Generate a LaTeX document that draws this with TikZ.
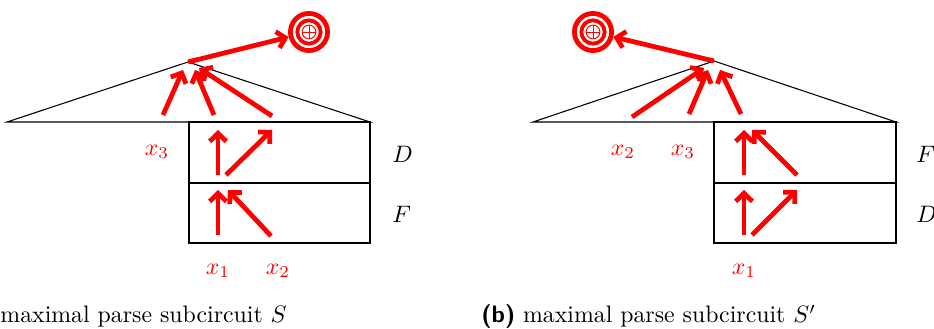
\documentclass[tikz,border=0pt]{standalone}
\usetikzlibrary{arrows.meta}
\begin{document}
\begin{tikzpicture}[x=0.42pt,y=-0.42pt,
  thin line/.style={black,line width=0.45pt},
  redarrow/.style={red,line width=2pt,-{Straight Barb[length=3.4pt,width=7pt]}},
  redlabel/.style={text=red,inner sep=0pt},
  boxlabel/.style={inner sep=0pt,anchor=west},
  outer ring/.style={circle,draw=red,line width=2pt,minimum size=15.6pt,inner sep=0pt},
  inner ring/.style={circle,draw=red,line width=1.6pt,minimum size=9.8pt,inner sep=0pt},
  oplus/.style={circle,draw=red,line width=0.4pt,minimum size=5.8pt,inner sep=0pt,
    path picture={\draw[red,line width=0.4pt] (path picture bounding box.north) -- (path picture bounding box.south)
      (path picture bounding box.west) -- (path picture bounding box.east);}}
]
\useasboundingbox (0,0) rectangle (934,329);

% ---------------- left panel ----------------
\coordinate (Ltl) at (7,122);
\coordinate (Lapex) at (188,62);
\coordinate (Ltr) at (370,122);
\coordinate (Lr1) at (189,122);
\coordinate (Lr2) at (370,243);
\coordinate (Lm1) at (189,183);
\coordinate (Lm2) at (370,183);
\draw[thin line] (Ltl) -- (Lapex) -- (Ltr) -- cycle;
\draw[thin line] (Lr1) rectangle (Lr2);
\draw[thin line] (Lm1) -- (Lm2);

\node[boxlabel] (LD) at (392,154) {$D$};
\node[boxlabel] (LF) at (392,214) {$F$};
\node[redlabel] (Lx3) at (157,152) {$x_3$};
\node[redlabel] (Lx1) at (218,271) {$x_1$};
\node[redlabel] (Lx2) at (278,271) {$x_2$};

\node[outer ring] (Lout) at (309,32) {};
\node[inner ring] (Lin) at (309,32) {};
\node[oplus] (Lop) at (309,32) {};

% arrow end points
\coordinate (LFa0) at (218,235); \coordinate (LFa1) at (218,190);
\coordinate (LFb0) at (271,236); \coordinate (LFb1) at (228,190);
\coordinate (LDa0) at (218,175); \coordinate (LDa1) at (218,130);
\coordinate (LDb0) at (226,175); \coordinate (LDb1) at (272,130);
\coordinate (LTa0) at (163,115); \coordinate (LTa1) at (183,70);
\coordinate (LTb0) at (214,115); \coordinate (LTb1) at (195,70);
\coordinate (LTc0) at (272,116); \coordinate (LTc1) at (199,68);

\draw[redarrow] (LFa0) -- (LFa1);
\draw[redarrow] (LFb0) -- (LFb1);
\draw[redarrow] (LDa0) -- (LDa1);
\draw[redarrow] (LDb0) -- (LDb1);
\draw[redarrow] (LTa0) -- (LTa1);
\draw[redarrow] (LTb0) -- (LTb1);
\draw[redarrow] (LTc0) -- (LTc1);
\draw[redarrow] (Lapex) -- (Lout);

\node[anchor=base west,inner sep=0pt] (Lcap) at (0,323) {maximal parse subcircuit $S$};

% ---------------- right panel ----------------
\coordinate (Rtl) at (533,122);
\coordinate (Rapex) at (714,61);
\coordinate (Rtr) at (896,122);
\coordinate (Rr1) at (714,122);
\coordinate (Rr2) at (896,243);
\coordinate (Rm1) at (714,183);
\coordinate (Rm2) at (896,183);
\draw[thin line] (Rtl) -- (Rapex) -- (Rtr) -- cycle;
\draw[thin line] (Rr1) rectangle (Rr2);
\draw[thin line] (Rm1) -- (Rm2);

\node[boxlabel] (RF) at (916,154) {$F'$};
\node[boxlabel] (RD) at (916,214) {$D'$};
\node[redlabel] (Rx2) at (623,152) {$x_2$};
\node[redlabel] (Rx3) at (683,152) {$x_3$};
\node[redlabel] (Rx1) at (744,271) {$x_1$};

\node[outer ring] (Rout) at (593,32) {};
\node[inner ring] (Rin) at (593,32) {};
\node[oplus] (Rop) at (593,32) {};

\coordinate (RDa0) at (744,235); \coordinate (RDa1) at (744,190);
\coordinate (RDb0) at (752,235); \coordinate (RDb1) at (797,190);
\coordinate (RFa0) at (744,175); \coordinate (RFa1) at (744,130);
\coordinate (RFb0) at (797,175); \coordinate (RFb1) at (752,130);
\coordinate (RTa0) at (632,117); \coordinate (RTa1) at (704,68);
\coordinate (RTb0) at (689,114); \coordinate (RTb1) at (708,70);
\coordinate (RTc0) at (741,114); \coordinate (RTc1) at (720,70);

\draw[redarrow] (RDa0) -- (RDa1);
\draw[redarrow] (RDb0) -- (RDb1);
\draw[redarrow] (RFa0) -- (RFa1);
\draw[redarrow] (RFb0) -- (RFb1);
\draw[redarrow] (RTa0) -- (RTa1);
\draw[redarrow] (RTb0) -- (RTb1);
\draw[redarrow] (RTc0) -- (RTc1);
\draw[redarrow] (Rapex) -- (Rout);

\node[anchor=base west,inner sep=0pt] (Rcap) at (481,323) {\textsf{\textbf{(b)}} maximal parse subcircuit $S'$};
\end{tikzpicture}
\end{document}
